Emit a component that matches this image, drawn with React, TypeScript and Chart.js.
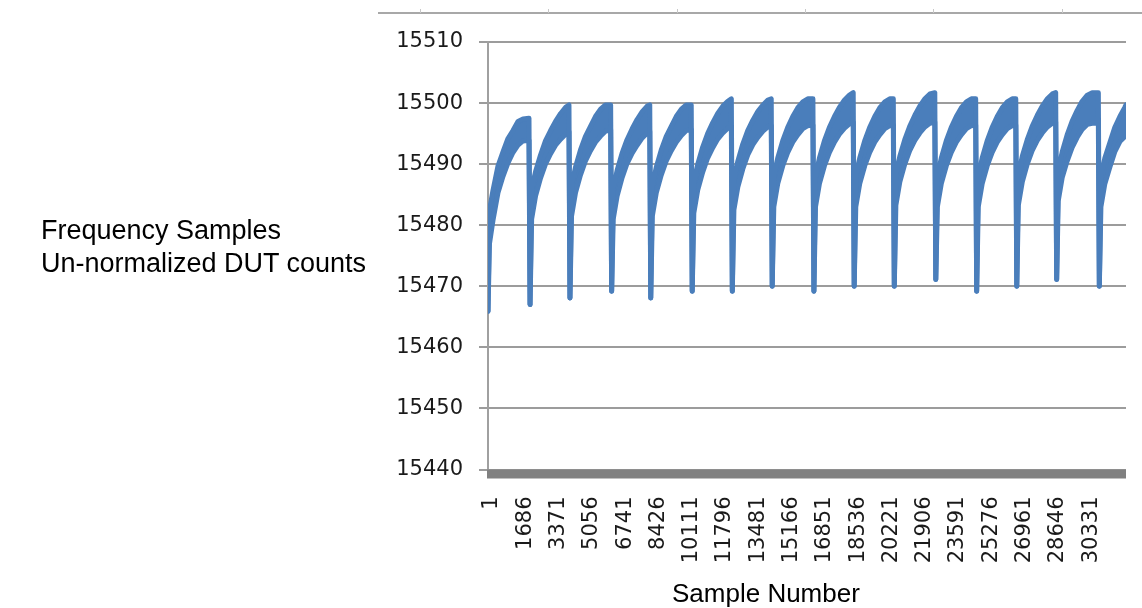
import React, { useEffect, useRef } from 'react';
import { Chart, registerables } from 'chart.js';

Chart.register(...registerables);

// Category tick labels shown on the x axis (every 1685th sample)
const xTickLabels = [1, 1686, 3371, 5056, 6741, 8426, 10111, 11796, 13481, 15166, 16851, 18536, 20221, 21906, 23591, 25276, 26961, 28646, 30331];
const xMin = 1;
const xMax = 32300;
const yMin = 15440;
const yMax = 15510;
const yStep = 10;

// Sample numbers of the traced points (shared by the upper and lower envelope of the noisy trace)
const sampleIndex = [
  1, 76, 253, 506, 760, 1013, 1266, 1519, 1772, 2076, 2130,
  2210, 2410, 2660, 2910, 3170, 3420, 3680, 3930, 4100, 4150,
  4230, 4430, 4680, 4930, 5190, 5440, 5700, 5950, 6210, 6260,
  6340, 6540, 6790, 7040, 7300, 7550, 7810, 8060, 8190, 8240,
  8320, 8520, 8770, 9020, 9280, 9530, 9790, 10040, 10290, 10340,
  10420, 10620, 10870, 11120, 11380, 11630, 11890, 12140, 12320, 12370,
  12450, 12650, 12900, 13150, 13410, 13660, 13920, 14170, 14340, 14390,
  14470, 14670, 14920, 15170, 15430, 15680, 15940, 16190, 16450, 16500,
  16580, 16780, 17030, 17280, 17540, 17790, 18050, 18300, 18490, 18540,
  18620, 18820, 19070, 19320, 19580, 19830, 20090, 20340, 20520, 20570,
  20650, 20850, 21100, 21350, 21610, 21860, 22120, 22370, 22620, 22670,
  22750, 22950, 23200, 23450, 23710, 23960, 24220, 24470, 24690, 24740,
  24820, 25020, 25270, 25520, 25780, 26030, 26290, 26540, 26720, 26770,
  26850, 27050, 27300, 27550, 27810, 28060, 28320, 28570, 28740, 28790,
  28870, 29070, 29320, 29570, 29830, 30080, 30340, 30590, 30900, 30950,
  31030, 31230, 31480, 31730, 31990, 32240, 32300,
];

// Upper edge of the DUT count trace
const upperCounts = [
  15465.9, 15482.5, 15485.7, 15489.7, 15492, 15494.2, 15495.5, 15497, 15497.4, 15497.5, 15467,
  15486, 15488.8, 15491.5, 15493.8, 15495.5, 15497, 15498.3, 15499.3, 15499.7, 15468.1,
  15486.5, 15489.5, 15492.3, 15494.5, 15496.2, 15497.8, 15499, 15499.7, 15499.7, 15469.2,
  15486, 15489, 15491.8, 15494, 15495.8, 15497.3, 15498.6, 15499.5, 15499.7, 15468.1,
  15486.5, 15489.5, 15492.3, 15494.5, 15496.2, 15497.8, 15499, 15499.7, 15499.7, 15469.2,
  15487, 15490, 15492.8, 15495, 15496.8, 15498.3, 15499.5, 15500.3, 15500.7, 15469.2,
  15487.5, 15490.5, 15493.3, 15495.5, 15497.2, 15498.6, 15499.7, 15500.5, 15500.7, 15470,
  15488, 15491, 15493.8, 15496, 15497.8, 15499.2, 15500.2, 15500.7, 15500.7, 15469.2,
  15488, 15491, 15493.8, 15496, 15497.8, 15499.3, 15500.5, 15501.3, 15501.7, 15470,
  15488, 15491, 15493.8, 15496, 15497.8, 15499.2, 15500.2, 15500.7, 15500.7, 15470,
  15488.3, 15491.3, 15494, 15496.2, 15498, 15499.5, 15500.7, 15501.5, 15501.7, 15471.1,
  15488, 15491, 15493.8, 15496, 15497.8, 15499.2, 15500.2, 15500.7, 15500.7, 15469.2,
  15488, 15491, 15493.8, 15496, 15497.8, 15499.2, 15500.2, 15500.7, 15500.7, 15470,
  15488.3, 15491.3, 15494, 15496.2, 15498, 15499.5, 15500.7, 15501.5, 15501.7, 15471.1,
  15489, 15492, 15494.8, 15497, 15498.8, 15500.3, 15501.3, 15501.7, 15501.7, 15470,
  15488, 15491, 15493.5, 15496, 15497.8, 15499.3, 15499.7,
];

// Lower edge of the DUT count trace
const lowerCounts = [
  15465.9, 15477, 15480.8, 15485.3, 15488, 15490.2, 15491.9, 15493.1, 15493.8, 15493.9, 15467,
  15481, 15484.8, 15487.7, 15490, 15491.7, 15493.1, 15494.1, 15494.9, 15495.3, 15468.1,
  15481.5, 15485.3, 15488.2, 15490.5, 15492.2, 15493.6, 15494.6, 15495.4, 15495.6, 15469.2,
  15481, 15484.8, 15487.8, 15490.1, 15491.8, 15493.1, 15494.3, 15495.1, 15495.4, 15468.1,
  15481.5, 15485.3, 15488.2, 15490.5, 15492.2, 15493.6, 15494.7, 15495.5, 15495.7, 15469.2,
  15482, 15485.8, 15488.7, 15491, 15492.7, 15494.1, 15495.1, 15495.9, 15496.1, 15469.2,
  15482.5, 15486.3, 15489.2, 15491.5, 15493.2, 15494.4, 15495.4, 15496.1, 15496.3, 15470,
  15483, 15486.8, 15489.7, 15491.9, 15493.6, 15494.8, 15495.8, 15496.3, 15496.4, 15469.2,
  15483, 15486.8, 15489.7, 15491.9, 15493.6, 15494.9, 15495.9, 15496.6, 15496.9, 15470,
  15483, 15486.8, 15489.7, 15491.9, 15493.6, 15494.8, 15495.8, 15496.3, 15496.4, 15470,
  15483.3, 15487.1, 15490, 15492.2, 15493.9, 15495.1, 15496.1, 15496.7, 15496.9, 15471.1,
  15483, 15486.8, 15489.7, 15491.9, 15493.6, 15494.8, 15495.8, 15496.3, 15496.4, 15469.2,
  15483, 15486.8, 15489.7, 15491.9, 15493.6, 15494.8, 15495.8, 15496.3, 15496.4, 15470,
  15483.3, 15487.1, 15490, 15492.2, 15493.9, 15495.1, 15496.1, 15496.7, 15496.9, 15471.1,
  15484, 15487.8, 15490.5, 15492.7, 15494.4, 15495.7, 15496.5, 15496.7, 15496.7, 15470,
  15483, 15486.8, 15489.5, 15492, 15493.7, 15494.5, 15494.7,
];

const yTitleLines = ['Frequency Samples', 'Un-normalized DUT counts'];
const xTitle = 'Sample Number';

const LINE_BLUE = '#4A7EBB';

const decorPlugin = {
  id: 'decor',
  afterDraw(chart: any) {
    const { ctx, chartArea: a } = chart;
    ctx.save();
    // thick floor bar under the plot area
    ctx.fillStyle = '#808080';
    ctx.fillRect(a.left - 1, a.bottom, a.right - a.left + 1, 9);
    // faint remnant axis at the very top
    ctx.strokeStyle = '#a8a8a8';
    ctx.lineWidth = 2;
    ctx.beginPath();
    ctx.moveTo(378, 13);
    ctx.lineTo(1142, 13);
    ctx.stroke();
    ctx.lineWidth = 1;
    ctx.strokeStyle = '#c8c8c8';
    [420, 548, 677, 805, 933, 1062].forEach((x) => {
      ctx.beginPath();
      ctx.moveTo(x + 0.5, 9);
      ctx.lineTo(x + 0.5, 13);
      ctx.stroke();
    });
    ctx.restore();
  },
};

export default function App() {
  const canvasRef = useRef<HTMLCanvasElement | null>(null);

  useEffect(() => {
    const canvas = canvasRef.current;
    if (!canvas) return;
    const upper = sampleIndex.map((x, i) => ({ x, y: upperCounts[i] }));
    const lower = sampleIndex.map((x, i) => ({ x, y: lowerCounts[i] }));
    const tickFont = { family: "'DejaVu Sans', Verdana, sans-serif", size: 21 };

    const chart = new Chart(canvas, {
      type: 'line',
      data: {
        datasets: [
          {
            data: upper,
            borderColor: LINE_BLUE,
            backgroundColor: LINE_BLUE,
            borderWidth: 5,
            pointRadius: 0,
            tension: 0,
            fill: false,
            borderJoinStyle: 'round',
            borderCapStyle: 'round',
          },
          {
            data: lower,
            borderColor: LINE_BLUE,
            backgroundColor: LINE_BLUE,
            borderWidth: 5,
            pointRadius: 0,
            tension: 0,
            fill: '-1',
            borderJoinStyle: 'round',
            borderCapStyle: 'round',
          },
        ],
      },
      options: {
        animation: false,
        responsive: false,
        devicePixelRatio: 1,
        layout: { padding: { top: 42, right: 16, left: 0, bottom: 0 } },
        plugins: {
          legend: { display: false },
          tooltip: { enabled: false },
        },
        scales: {
          x: {
            type: 'linear',
            min: xMin,
            max: xMax,
            afterBuildTicks: (s: any) => {
              s.ticks = xTickLabels.map((v) => ({ value: v }));
            },
            afterFit: (s: any) => {
              s.height = 608 - 469.5;
            },
            grid: { display: false, drawTicks: false },
            border: { display: false },
            ticks: {
              autoSkip: false,
              minRotation: 90,
              maxRotation: 90,
              padding: 27,
              labelOffset: 4,
              color: '#1a1a1a',
              font: tickFont,
              callback: (v: any) => String(v),
            },
          },
          y: {
            type: 'linear',
            min: yMin,
            max: yMax,
            afterFit: (s: any) => {
              s.width = 488;
            },
            ticks: {
              stepSize: yStep,
              padding: 16,
              color: '#1a1a1a',
              font: tickFont,
              callback: (v: any) => String(v),
            },
            grid: { color: '#9c9c9c', lineWidth: 2, tickLength: 9 },
            border: { color: '#a0a0a0', width: 2 },
          },
        },
      },
      plugins: [decorPlugin],
    } as any);

    return () => chart.destroy();
  }, []);

  const textStyle: React.CSSProperties = {
    position: 'absolute',
    fontFamily: "'Liberation Sans', Arial, sans-serif",
    color: '#000',
    whiteSpace: 'nowrap',
  };

  return (
    <div style={{ position: 'absolute', left: 0, top: 0, width: 1142, height: 608, background: '#fff' }}>
      <canvas ref={canvasRef} width={1142} height={608} style={{ display: 'block' }} />
      <div style={{ ...textStyle, fontSize: 27, left: 41, top: 214, lineHeight: '33px' }}>
        {yTitleLines.map((l) => (
          <div key={l}>{l}</div>
        ))}
      </div>
      <div style={{ ...textStyle, fontSize: 26, left: 672, top: 580, lineHeight: '26px' }}>{xTitle}</div>
    </div>
  );
}
